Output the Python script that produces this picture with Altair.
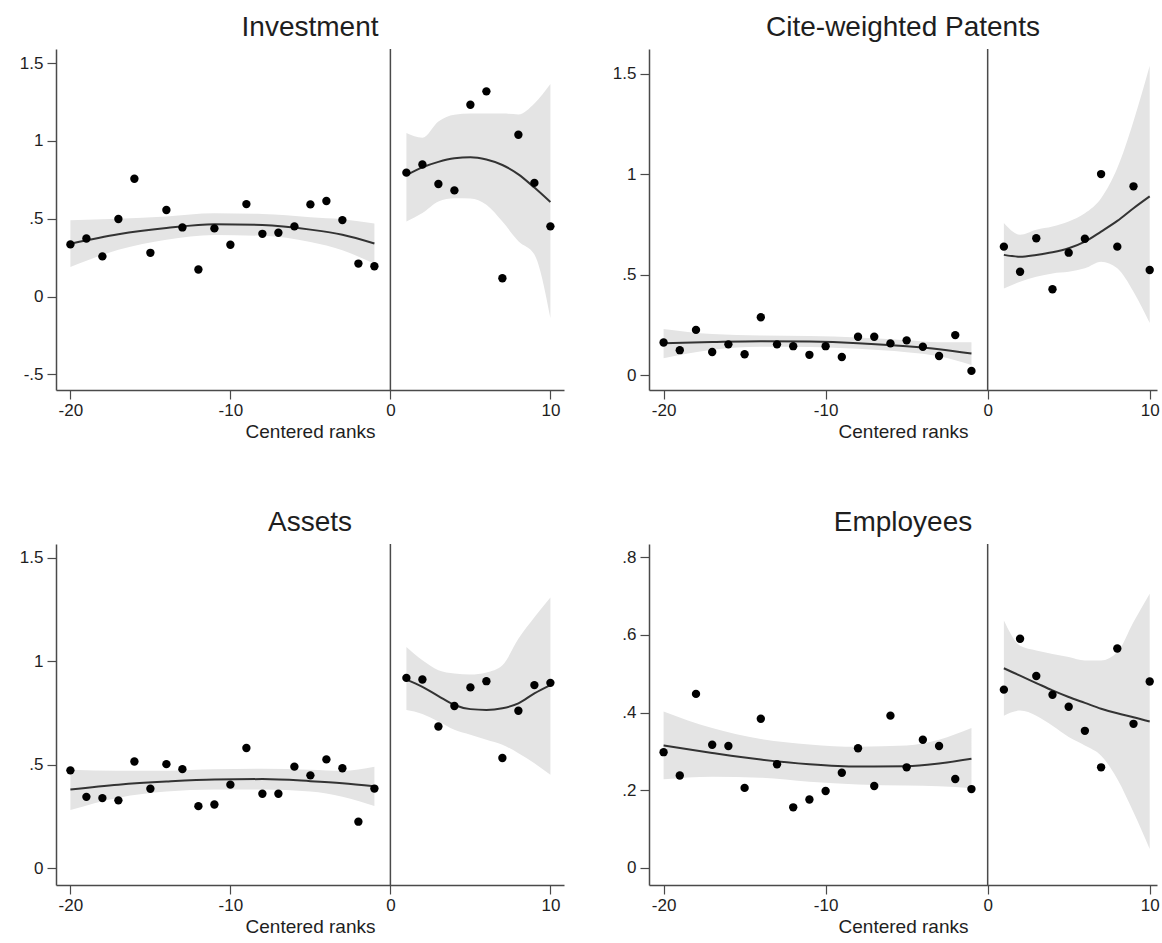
import altair as alt
import pandas as pd

# Bin positions (centered ranks) for the scatter points
X_LEFT = [-20, -19, -18, -17, -16, -15, -14, -13, -12, -11,
          -10, -9, -8, -7, -6, -5, -4, -3, -2, -1]
X_RIGHT = [1, 2, 3, 4, 5, 6, 7, 8, 9, 10]

# Positions at which the fitted curve and its confidence band are given
FIT_X_LEFT = [-20, -17, -14, -11, -8, -5, -3, -1]
FIT_X_RIGHT = [1, 2, 3, 4, 5, 6, 7, 8, 9, 10]

# Investment
INV_LEFT = [0.335, 0.373, 0.258, 0.498, 0.757, 0.281, 0.556, 0.444, 0.174, 0.438,
            0.333, 0.594, 0.403, 0.410, 0.451, 0.592, 0.614, 0.491, 0.212, 0.195]
INV_RIGHT = [0.796, 0.848, 0.723, 0.682, 1.232, 1.318, 0.118, 1.039, 0.730, 0.451]
INV_FIT_L = [0.339, 0.400, 0.440, 0.465, 0.460, 0.430, 0.397, 0.341]
INV_UP_L = [0.490, 0.500, 0.515, 0.535, 0.530, 0.510, 0.497, 0.470]
INV_LO_L = [0.190, 0.300, 0.365, 0.395, 0.390, 0.350, 0.297, 0.211]
INV_FIT_R = [0.780, 0.830, 0.865, 0.888, 0.895, 0.880, 0.845, 0.785, 0.700, 0.607]
INV_UP_R = [1.050, 1.020, 1.125, 1.168, 1.175, 1.175, 1.175, 1.170, 1.240, 1.365]
INV_LO_R = [0.482, 0.536, 0.611, 0.632, 0.630, 0.590, 0.482, 0.356, 0.270, -0.137]

# Cite-weighted patents
CITE_LEFT = [0.163, 0.125, 0.226, 0.116, 0.154, 0.105, 0.289, 0.154, 0.145, 0.102,
             0.145, 0.091, 0.192, 0.192, 0.159, 0.174, 0.142, 0.096, 0.200, 0.022]
CITE_RIGHT = [0.640, 0.515, 0.682, 0.428, 0.610, 0.679, 1.001, 0.640, 0.940, 0.524]
CITE_FIT_L = [0.160, 0.166, 0.170, 0.168, 0.160, 0.145, 0.130, 0.108]
CITE_UP_L = [0.230, 0.205, 0.198, 0.195, 0.188, 0.175, 0.165, 0.165]
CITE_LO_L = [0.085, 0.127, 0.142, 0.141, 0.132, 0.115, 0.095, 0.051]
CITE_FIT_R = [0.599, 0.590, 0.599, 0.612, 0.632, 0.665, 0.715, 0.768, 0.831, 0.890]
CITE_UP_R = [0.757, 0.699, 0.724, 0.740, 0.765, 0.806, 0.881, 1.031, 1.264, 1.540]
CITE_LO_R = [0.432, 0.466, 0.490, 0.507, 0.515, 0.532, 0.565, 0.532, 0.416, 0.260]

# Assets
ASSETS_LEFT = [0.472, 0.344, 0.338, 0.327, 0.515, 0.383, 0.502, 0.478, 0.299, 0.307,
               0.403, 0.580, 0.359, 0.359, 0.490, 0.448, 0.525, 0.482, 0.224, 0.384]
ASSETS_RIGHT = [0.919, 0.911, 0.684, 0.783, 0.873, 0.903, 0.532, 0.760, 0.884, 0.895]
ASSETS_FIT_L = [0.380, 0.403, 0.418, 0.428, 0.430, 0.420, 0.410, 0.395]
ASSETS_UP_L = [0.475, 0.470, 0.470, 0.477, 0.480, 0.475, 0.470, 0.490]
ASSETS_LO_L = [0.280, 0.340, 0.370, 0.380, 0.380, 0.370, 0.345, 0.300]
ASSETS_FIT_R = [0.911, 0.876, 0.831, 0.788, 0.768, 0.764, 0.772, 0.796, 0.844, 0.884]
ASSETS_UP_R = [1.068, 1.004, 0.956, 0.940, 0.935, 0.945, 0.980, 1.108, 1.212, 1.308]
ASSETS_LO_R = [0.764, 0.745, 0.708, 0.668, 0.644, 0.620, 0.596, 0.555, 0.507, 0.451]

# Employees
EMP_LEFT = [0.298, 0.238, 0.448, 0.317, 0.314, 0.206, 0.384, 0.267, 0.156, 0.176,
            0.198, 0.245, 0.308, 0.211, 0.392, 0.259, 0.330, 0.314, 0.229, 0.203]
EMP_RIGHT = [0.459, 0.590, 0.494, 0.446, 0.415, 0.353, 0.259, 0.565, 0.371, 0.480]
EMP_FIT_L = [0.315, 0.296, 0.279, 0.267, 0.261, 0.262, 0.269, 0.281]
EMP_UP_L = [0.403, 0.360, 0.332, 0.318, 0.312, 0.315, 0.330, 0.360]
EMP_LO_L = [0.228, 0.235, 0.232, 0.222, 0.215, 0.212, 0.210, 0.205]
EMP_FIT_R = [0.514, 0.495, 0.476, 0.457, 0.440, 0.425, 0.410, 0.398, 0.388, 0.377]
EMP_UP_R = [0.637, 0.572, 0.560, 0.551, 0.543, 0.534, 0.534, 0.555, 0.633, 0.706]
EMP_LO_R = [0.392, 0.405, 0.392, 0.366, 0.337, 0.315, 0.289, 0.229, 0.143, 0.049]

X_TICKS = [-20, -10, 0, 10]
FONT = "Liberation Sans"
TEXT = "#1e1e1e"
AXIS = "#4a4a4a"

# Stata-style labels: ".5" instead of "0.5", plain hyphen for negatives
LABEL_EXPR = ("(datum.value < 0 ? '-' : '') + "
              "replace(format(abs(datum.value), '~g'), '0.', '.')")

PW, PH = 508, 341


def panel(title, y_domain, y_ticks, x_domain, pts_l, pts_r,
          fit_l, up_l, lo_l, fit_r, up_r, lo_r):
    pts = pd.DataFrame({"x": X_LEFT + X_RIGHT, "y": pts_l + pts_r})
    fit = pd.DataFrame({
        "x": FIT_X_LEFT + FIT_X_RIGHT,
        "side": ["left"] * len(FIT_X_LEFT) + ["right"] * len(FIT_X_RIGHT),
        "fit": fit_l + fit_r,
        "upper": up_l + up_r,
        "lower": lo_l + lo_r,
    })
    cut = pd.DataFrame({"x": [0]})

    xs = alt.Scale(domain=x_domain, nice=False, zero=False)
    ys = alt.Scale(domain=y_domain, nice=False, zero=False)
    xa = alt.Axis(values=X_TICKS, title="Centered ranks", labelExpr=LABEL_EXPR,
                  grid=False, tickSize=9, labelPadding=3, titlePadding=4)
    ya = alt.Axis(values=y_ticks, title=None, labelExpr=LABEL_EXPR,
                  grid=False, tickSize=9, labelPadding=4)

    band = alt.Chart(fit).mark_area(color="#e4e4e4", interpolate="monotone").encode(
        x=alt.X("x:Q", scale=xs, axis=xa),
        y=alt.Y("upper:Q", scale=ys, axis=ya),
        y2="lower:Q",
        detail="side:N",
    )
    line = alt.Chart(fit).mark_line(color="#333333", strokeWidth=2,
                                    interpolate="monotone").encode(
        x=alt.X("x:Q", scale=xs, axis=xa),
        y=alt.Y("fit:Q", scale=ys, axis=ya),
        detail="side:N",
    )
    rule = alt.Chart(cut).mark_rule(color=AXIS, strokeWidth=1.5).encode(
        x=alt.X("x:Q", scale=xs, axis=xa),
    )
    dots = alt.Chart(pts).mark_circle(color="black", size=70, opacity=1).encode(
        x=alt.X("x:Q", scale=xs, axis=xa),
        y=alt.Y("y:Q", scale=ys, axis=ya),
    )
    return alt.layer(band, line, rule, dots).properties(
        width=PW, height=PH,
        title=alt.TitleParams(title, fontSize=28, font=FONT, fontWeight="normal",
                              color=TEXT, anchor="middle", offset=6),
    )


LEFT_X = [-20.9, 10.85]
RIGHT_X = [-20.9, 10.45]

p1 = panel("Investment", [-0.6, 1.59], [-0.5, 0, 0.5, 1, 1.5], LEFT_X,
           INV_LEFT, INV_RIGHT, INV_FIT_L, INV_UP_L, INV_LO_L,
           INV_FIT_R, INV_UP_R, INV_LO_R)
p2 = panel("Cite-weighted Patents", [-0.073, 1.623], [0, 0.5, 1, 1.5], RIGHT_X,
           CITE_LEFT, CITE_RIGHT, CITE_FIT_L, CITE_UP_L, CITE_LO_L,
           CITE_FIT_R, CITE_UP_R, CITE_LO_R)
p3 = panel("Assets", [-0.082, 1.566], [0, 0.5, 1, 1.5], LEFT_X,
           ASSETS_LEFT, ASSETS_RIGHT, ASSETS_FIT_L, ASSETS_UP_L, ASSETS_LO_L,
           ASSETS_FIT_R, ASSETS_UP_R, ASSETS_LO_R)
p4 = panel("Employees", [-0.044, 0.834], [0, 0.2, 0.4, 0.6, 0.8], RIGHT_X,
           EMP_LEFT, EMP_RIGHT, EMP_FIT_L, EMP_UP_L, EMP_LO_L,
           EMP_FIT_R, EMP_UP_R, EMP_LO_R)

chart = alt.concat(
    p1, p2, p3, p4,
    columns=2,
    spacing={"row": 154, "column": 85},
    bounds="flush",
).properties(
    padding={"left": 19, "top": 14, "right": 0, "bottom": 2},
    background="white",
).configure_view(
    stroke=None,
).configure_axis(
    labelFont=FONT, labelFontSize=17, labelColor=TEXT,
    titleFont=FONT, titleFontSize=19, titleFontWeight="normal", titleColor=TEXT,
    domainColor=AXIS, domainWidth=1.5, tickColor=AXIS, tickWidth=1.2,
)

chart.save("out.html", embed_options={"renderer": "svg", "actions": False})
